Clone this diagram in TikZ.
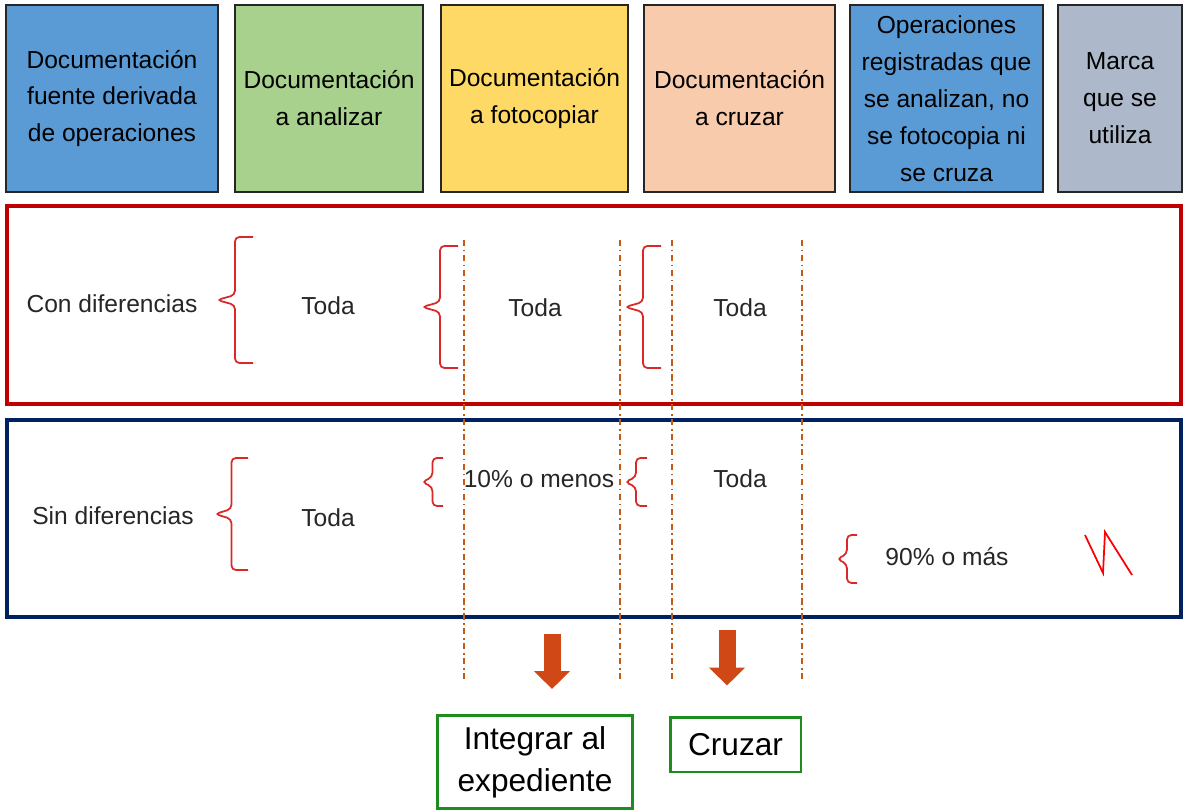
\documentclass[tikz,border=0pt]{standalone}
\usepackage{fontspec}
\setmainfont{Liberation Sans}
\usepackage{xcolor}
\usepackage{tikz}
\usetikzlibrary{positioning,calc,arrows.meta}

\definecolor{hdrblue}{RGB}{91,155,213}
\definecolor{hdrgreen}{RGB}{169,209,142}
\definecolor{hdryellow}{RGB}{255,217,102}
\definecolor{hdrpeach}{RGB}{248,203,173}
\definecolor{hdrgrey}{RGB}{173,185,202}
\definecolor{rowred}{RGB}{192,0,0}
\definecolor{rownavy}{RGB}{0,32,96}
\definecolor{brcred}{RGB}{218,40,40}
\definecolor{guidecol}{RGB}{197,90,17}
\definecolor{arrowcol}{RGB}{208,72,22}
\definecolor{boxgreen}{RGB}{30,140,30}
\definecolor{txtgray}{RGB}{38,38,38}

\begin{document}
\begin{tikzpicture}[x=0.02cm, y=-0.02cm,
    hdr/.style={draw=black!85, line width=0.9pt, minimum height=3.74cm, inner sep=0pt,
        align=center, font=\fontsize{14}{21}\selectfont},
    lbl/.style={text=txtgray, font=\fontsize{14}{17}\selectfont, inner sep=0pt},
    % curly bracket: tip at the pic origin, #1 = half height, #2 = width
    pics/curly/.style 2 args={code={
        \draw[brcred, line width=1pt, rounded corners=2.5pt]
            (#2,-#1) -- ({#2/2},-#1) -- ({#2/2},-5) -- (0,0) -- ({#2/2},5) -- ({#2/2},#1) -- (#2,#1);
    }},
    guide/.style={draw=guidecol, line width=0.8pt, dash pattern=on 3.5pt off 2pt on 1pt off 2pt},
    blockarrow/.style={draw=arrowcol, line width=0.34cm, -{Triangle[width=0.7cm, length=0.36cm]}},
    outbox/.style={draw=boxgreen, line width=1.7pt, inner sep=0pt, align=center,
        font=\fontsize{18}{24}\selectfont}]

    \useasboundingbox (0,0) rectangle (1183,810);

    % Header row
    \node[hdr, fill=hdrblue, minimum width=4.24cm] (srcdoc) at (112,98.5) {Documentación\\fuente derivada\\de operaciones};
    \node[hdr, fill=hdrgreen, minimum width=3.76cm] (analizar) at (329,98.5) {Documentación\\a analizar};
    \node[hdr, fill=hdryellow, minimum width=3.74cm] (fotocopiar) at (534.5,98.5) {Documentación\\a fotocopiar};
    \node[hdr, fill=hdrpeach, minimum width=3.82cm] (cruzar) at (739.5,98.5) {Documentación\\a cruzar};
    \node[hdr, fill=hdrblue, minimum width=3.86cm] (registradas) at (946.5,98.5) {Operaciones\\registradas que\\se analizan, no\\se fotocopia ni\\se cruza};
    \node[hdr, fill=hdrgrey, minimum width=2.48cm] (marca) at (1120,98.5) {Marca\\que se\\utiliza};

    % Row frames
    \draw[rowred, line width=2.3pt] (7,206) rectangle (1181,404);
    \draw[rownavy, line width=2.3pt] (7,420) rectangle (1181,617);

    % Column guides
    \foreach \x in {464,620,672,802}
        \draw[guide] (\x,240) -- (\x,680);

    % Con diferencias
    \node[lbl] (con) at (112,304) {Con diferencias};
    \pic at (217,300) {curly={63}{36}};
    \node[lbl] (contoda1) at (328,306) {Toda};
    \pic at (422,307) {curly={61}{36}};
    \node[lbl] (contoda2) at (535,308) {Toda};
    \pic at (625,307) {curly={61}{36}};
    \node[lbl] (contoda3) at (740,308) {Toda};

    % Sin diferencias
    \node[lbl] (sin) at (113,516) {Sin diferencias};
    \pic at (215,514) {curly={56}{33}};
    \node[lbl] (sintoda1) at (328,518) {Toda};
    \pic at (422,482) {curly={24}{21}};
    \node[lbl] (menos) at (539,479) {10\% o menos};
    \pic at (625,482) {curly={24}{22}};
    \node[lbl] (sintoda2) at (740,479) {Toda};
    \pic at (837,559) {curly={24}{20}};
    \node[lbl] (mas) at (947,557) {90\% o más};

    % Marca
    \draw[red, line width=1pt] (1085,535) -- (1103,573) -- (1105,532) -- (1132,575);

    % Results
    \node[outbox, minimum width=3.92cm, minimum height=1.86cm] (integrar) at (535,762) {Integrar al\\expediente};
    \node[outbox, minimum width=2.62cm, minimum height=1.1cm] (cruce) at (735.5,744.5) {Cruzar};
    \coordinate (a1) at (552,634);
    \coordinate (a2) at (727,630);
    \draw[blockarrow, shorten >=0.5cm] (a1) -- (a1 |- integrar.north);
    \draw[blockarrow, shorten >=0.6cm] (a2) -- (a2 |- cruce.north);

\end{tikzpicture}
\end{document}
